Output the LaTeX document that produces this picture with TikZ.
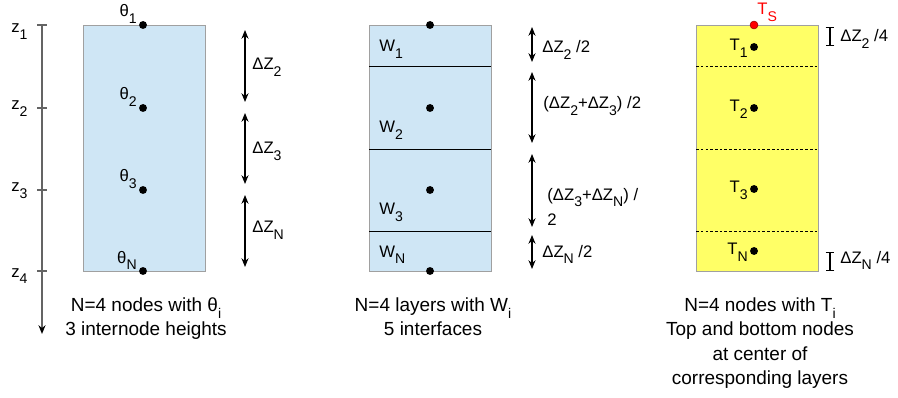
\documentclass[tikz,border=0pt]{standalone}
\usepackage{fontspec}
\setmainfont{Liberation Sans}
\usetikzlibrary{arrows.meta}
\definecolor{layerblue}{RGB}{207,230,245}
\definecolor{layeryellow}{RGB}{255,255,102}
\definecolor{framegray}{RGB}{160,160,160}
\definecolor{axisgray}{RGB}{100,100,100}
\newcommand{\sub}[1]{\raisebox{-0.4em}{\fontsize{8}{9}\selectfont #1}}

\begin{document}
\begin{tikzpicture}[x=0.02cm, y=-0.02cm, >={Stealth[length=5pt,width=4pt]},
    font=\fontsize{9.5}{11}\selectfont,
    dot/.style={circle, fill=black, inner sep=0pt, minimum size=4.5pt},
    tag/.style={inner sep=0pt},
    caption/.style={align=center, inner sep=0pt, font=\fontsize{10.8}{14}\selectfont},
    dim/.style={<->, line width=0.6pt},
    bar/.style={{Bar[width=5pt]}-{Bar[width=5pt]}, line width=0.6pt}]
  \useasboundingbox (0,0) rectangle (898,398);

  % depth axis
  \coordinate (ztop) at (42,25);
  \coordinate (zbot) at (42,334);
  \draw[-{Stealth[length=5pt,width=4pt,black]}, axisgray, line width=0.8pt] (ztop) -- (zbot);
  \foreach \y/\lab/\b in {25/1/33, 108/2/110, 190/3/192, 271/4/277} {
    \draw[axisgray, line width=0.6pt] (37,\y) -- (47,\y);
    \node[tag, anchor=base west] (z\lab) at (11,\b) {z\sub{\lab}};
  }

  % left: nodes with theta
  \draw[framegray, fill=layerblue] (83,25) rectangle (205,271);
  \foreach \y/\n in {25/1, 108/2, 190/3, 271/N}
    \node[dot] (th\n) at (143,\y) {};
  \foreach \n in {1,2,3,N}
    \node[tag, anchor=base east] (thl\n) at ([shift={(-6,-8)}]th\n) {θ\sub{\n}};
  \foreach \a/\b/\n/\l in {30/102/2/70, 113/184/3/154, 195/267/N/233} {
    \coordinate (dz\n t) at (245,\a);
    \coordinate (dz\n b) at (245,\b);
    \draw[dim] (dz\n t) -- (dz\n b);
    \node[tag, anchor=base west] (dzl\n) at (252,\l) {ΔZ\sub{\n}};
  }

  % middle: layers with W
  \draw[framegray, fill=layerblue] (369,25) rectangle (491,271);
  \foreach \y in {66,149,231}
    \draw[line width=0.5pt] (369,\y) -- (491,\y);
  \foreach \y/\n in {25/1, 108/2, 190/3, 271/4}
    \node[dot] (wd\n) at (430,\y) {};
  \foreach \b/\n in {52/1, 133/2, 215/3, 257/N}
    \node[tag, anchor=base west] (w\n) at (379,\b) {W\sub{\n}};
  \foreach \a/\b/\n in {27/62/1, 72/143/2, 154/227/3, 235/269/4} {
    \coordinate (hw\n t) at (532,\a);
    \coordinate (hw\n b) at (532,\b);
    \draw[dim] (hw\n t) -- (hw\n b);
  }
  \node[tag, anchor=base west] (hwl1) at (542,53) {ΔZ\sub{2} /2};
  \node[tag, anchor=base west] (hwl2) at (543,109) {(ΔZ\sub{2}+ΔZ\sub{3}) /2};
  \node[tag, anchor=west, align=left, font=\fontsize{9.5}{14.7}\selectfont] (hwl3) at (547,207) {(ΔZ\sub{3}+ΔZ\sub{N}) /\\2};
  \node[tag, anchor=base west] (hwl4) at (542,257) {ΔZ\sub{N} /2};

  % right: nodes with T
  \draw[framegray, fill=layeryellow] (696,25) rectangle (818,271);
  \foreach \y in {66,149,231}
    \draw[line width=0.4pt, dash pattern=on 1.5pt off 1.2pt] (696,\y) -- (818,\y);
  \node[dot, fill=red, draw=red!60!black, line width=0.3pt] (ts) at (754,25) {};
  \node[tag, anchor=base west, red] (tsl) at (757,15) {T\sub{S}};
  \foreach \y/\n in {47/1, 108/2, 189/3, 251/N} {
    \node[dot] (t\n) at (754,\y) {};
    \node[tag, anchor=base east] (tl\n) at ([shift={(-6,4)}]t\n) {T\sub{\n}};
  }
  \coordinate (qt1) at (830,27);
  \coordinate (qb1) at (830,46);
  \coordinate (qt2) at (830,252);
  \coordinate (qb2) at (830,271);
  \draw[bar] (qt1) -- (qb1);
  \draw[bar] (qt2) -- (qb2);
  \node[tag, anchor=base west] (ql1) at (840,42) {ΔZ\sub{2} /4};
  \node[tag, anchor=base west] (ql2) at (840,263) {ΔZ\sub{N} /4};

  % captions
  \node[caption, anchor=north] (capl) at (146,297) {N=4 nodes with θ\sub{i}\\3 internode heights};
  \node[caption, anchor=north] (capm) at (433,297) {N=4 layers with W\sub{i}\\5 interfaces};
  \node[caption, anchor=north] (capr) at (760,297) {N=4 nodes with T\sub{i}\\Top and bottom nodes\\at center of\\corresponding layers};
\end{tikzpicture}
\end{document}
